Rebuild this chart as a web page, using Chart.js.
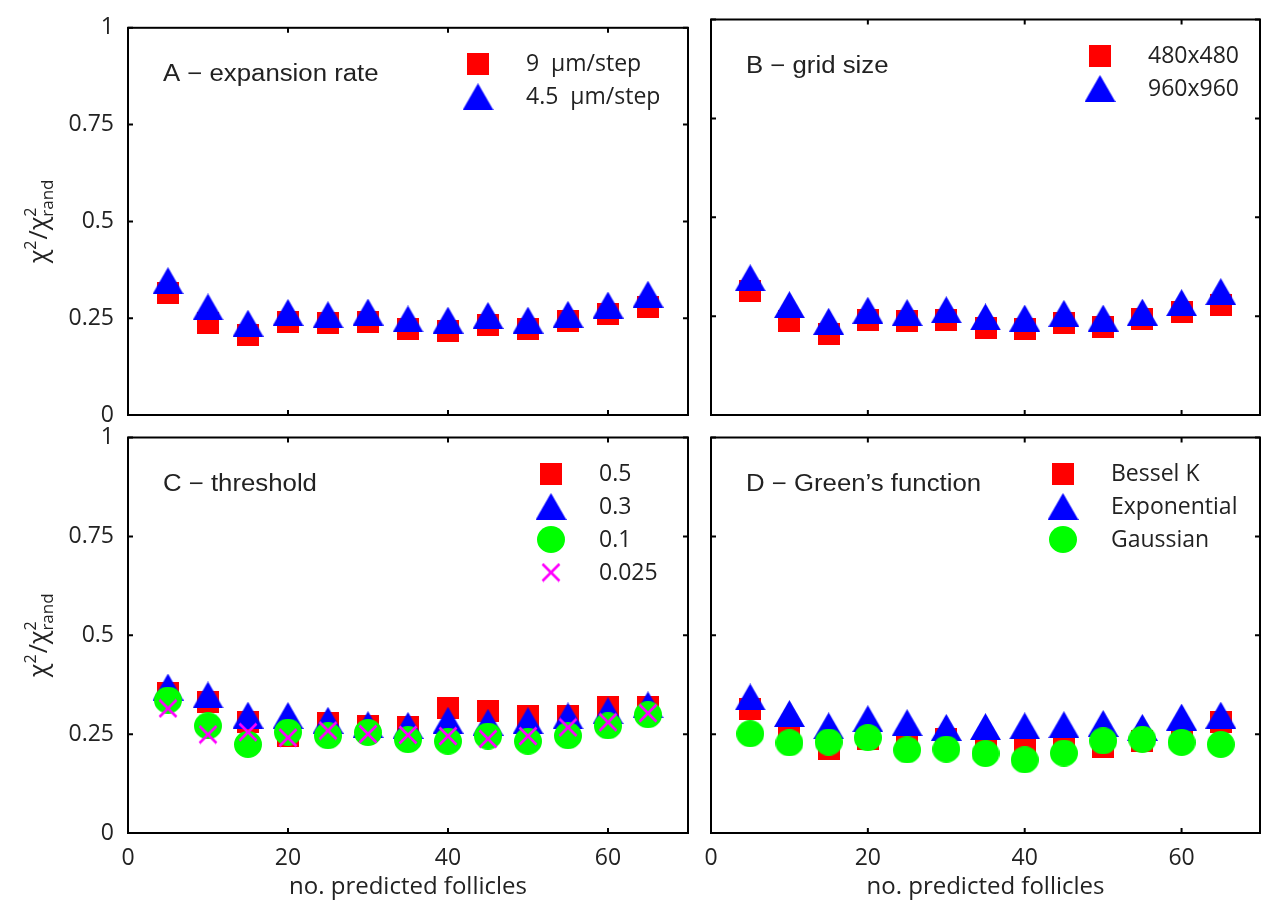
<!DOCTYPE html>
<html>
<head>
<meta charset="utf-8">
<script src="https://cdn.jsdelivr.net/npm/chart.js@4.4.0/dist/chart.umd.min.js"></script>
<style>
  html, body { margin: 0; padding: 0; background: #fff; }
  #wrap { position: relative; width: 1273px; height: 905px; }
  #wrap canvas { position: absolute; left: 0; top: 0; }
</style>
</head>
<body>
<div id="wrap">
  <canvas id="cA" width="1273" height="905"></canvas>
  <canvas id="cB" width="1273" height="905"></canvas>
  <canvas id="cC" width="1273" height="905"></canvas>
  <canvas id="cD" width="1273" height="905"></canvas>
</div>
<script>
// data
const follicles = [5, 10, 15, 20, 25, 30, 35, 40, 45, 50, 55, 60, 65];

const rate9 = [0.314, 0.238, 0.206, 0.240, 0.237, 0.240, 0.221, 0.218, 0.232, 0.223, 0.242, 0.261, 0.278];
const rate45 = [0.347, 0.279, 0.237, 0.265, 0.259, 0.266, 0.248, 0.245, 0.257, 0.245, 0.260, 0.284, 0.312];

const grid480 = [0.314, 0.238, 0.206, 0.240, 0.237, 0.240, 0.221, 0.218, 0.232, 0.223, 0.242, 0.261, 0.278];
const grid960 = [0.347, 0.279, 0.237, 0.265, 0.259, 0.266, 0.248, 0.245, 0.257, 0.245, 0.260, 0.284, 0.312];

const thr05 = [0.355, 0.330, 0.281, 0.244, 0.277, 0.270, 0.267, 0.315, 0.308, 0.296, 0.296, 0.319, 0.319];
const thr03 = [0.369, 0.349, 0.298, 0.297, 0.285, 0.274, 0.272, 0.285, 0.280, 0.284, 0.296, 0.309, 0.324];
const thr01 = [0.336, 0.271, 0.224, 0.255, 0.246, 0.254, 0.236, 0.232, 0.245, 0.232, 0.246, 0.271, 0.299];
const thr0025 = [0.315, 0.249, 0.255, 0.241, 0.259, 0.250, 0.248, 0.245, 0.238, 0.245, 0.267, 0.280, 0.303];

const besselK = [0.314, 0.254, 0.212, 0.237, 0.222, 0.238, 0.222, 0.222, 0.218, 0.218, 0.232, 0.244, 0.281];
const exponential = [0.344, 0.302, 0.271, 0.289, 0.279, 0.267, 0.269, 0.271, 0.274, 0.277, 0.267, 0.293, 0.298];
const gaussian = [0.251, 0.228, 0.230, 0.241, 0.210, 0.212, 0.201, 0.185, 0.202, 0.233, 0.237, 0.229, 0.224];

const xTicks = [0, 20, 40, 60];
const yTicks = [0, 0.25, 0.5, 0.75, 1];
const yTickLabels = ['0', '0.25', '0.5', '0.75', '1'];

const W = 1273, H = 905;
const YW = 60, XH = 40, TICK = 5;
const TXT = '#222';
const FONT = "'Open Sans', sans-serif";

// marker images (bbox centred)
function marker(kind) {
  const c = document.createElement('canvas');
  const g = c.getContext('2d');
  if (kind === 'square') {
    c.width = 22; c.height = 22;
    g.fillStyle = '#ff0000'; g.fillRect(0, 0, 22, 22);
  } else if (kind === 'triangle') {
    c.width = 31; c.height = 27;
    g.fillStyle = '#0000ff';
    g.beginPath(); g.moveTo(15.5, 0); g.lineTo(31, 27); g.lineTo(0, 27); g.closePath(); g.fill();
  } else if (kind === 'circle') {
    c.width = 28; c.height = 27;
    g.fillStyle = '#00ff00';
    g.beginPath(); g.ellipse(14, 13.5, 14, 13.5, 0, 0, Math.PI * 2); g.fill();
  } else {
    c.width = 20; c.height = 20;
    g.strokeStyle = '#ff00ff'; g.lineWidth = 2.6;
    g.beginPath(); g.moveTo(1.5, 1.5); g.lineTo(18.5, 18.5); g.moveTo(18.5, 1.5); g.lineTo(1.5, 18.5); g.stroke();
  }
  return c;
}
const SQ = marker('square'), TRI = marker('triangle'), CIR = marker('circle'), CRS = marker('cross');

const panels = [
  { id: 'cA', area: { l: 128, t: 19.5, r: 688, b: 415 }, title: 'A \u2212 expansion rate', xLab: false, yLab: true,
    legX: 350,
    series: [{ label: '9  \u03bcm/step', data: rate9, m: SQ }, { label: '4.5  \u03bcm/step', data: rate45, m: TRI }] },
  { id: 'cB', area: { l: 711, t: 19.5, r: 1271, b: 415 }, title: 'B \u2212 grid size', xLab: false, yLab: false,
    legX: 389,
    series: [{ label: '480x480', data: grid480, m: SQ }, { label: '960x960', data: grid960, m: TRI }] },
  { id: 'cC', area: { l: 128, t: 437.5, r: 688, b: 833 }, title: 'C \u2212 threshold', xLab: true, yLab: true,
    legX: 423,
    series: [{ label: '0.5', data: thr05, m: SQ }, { label: '0.3', data: thr03, m: TRI },
             { label: '0.1', data: thr01, m: CIR }, { label: '0.025', data: thr0025, m: CRS }] },
  { id: 'cD', area: { l: 711, t: 437.5, r: 1271, b: 833 }, title: 'D \u2212 Green\u2019s function', xLab: true, yLab: false,
    legX: 352,
    series: [{ label: 'Bessel K', data: besselK, m: SQ }, { label: 'Exponential', data: exponential, m: TRI },
             { label: 'Gaussian', data: gaussian, m: CIR }] }
];

function decor(p) {
  return {
    id: 'decor_' + p.id,
    afterDraw(chart) {
      const { ctx, chartArea: a } = chart;
      const sx = chart.scales.x, sy = chart.scales.y;
      ctx.save();
      // box and inward ticks
      ctx.strokeStyle = '#000';
      ctx.lineWidth = 2;
      ctx.strokeRect(a.left, a.top, a.right - a.left, a.bottom - a.top);
      ctx.beginPath();
      xTicks.forEach(v => {
        const px = sx.getPixelForValue(v);
        ctx.moveTo(px, a.bottom); ctx.lineTo(px, a.bottom - TICK);
        ctx.moveTo(px, a.top); ctx.lineTo(px, a.top + TICK);
      });
      yTicks.forEach(v => {
        const py = sy.getPixelForValue(v);
        ctx.moveTo(a.left, py); ctx.lineTo(a.left + TICK, py);
        ctx.moveTo(a.right, py); ctx.lineTo(a.right - TICK, py);
      });
      ctx.stroke();

      // panel title
      ctx.fillStyle = TXT;
      ctx.textBaseline = 'alphabetic';
      ctx.textAlign = 'left';
      ctx.save();
      ctx.translate(a.left + 35, a.top + 53);
      ctx.scale(1.12, 1);
      ctx.font = "23px 'Liberation Sans', Arial, sans-serif";
      ctx.fillText(p.title, 0, 0);
      ctx.restore();

      // legend
      ctx.font = '23px ' + FONT;
      ctx.textBaseline = 'middle';
      p.series.forEach((s, i) => {
        const cy = a.top + 36 + 33 * i;
        const cx = a.left + p.legX;
        ctx.drawImage(s.m, cx - s.m.width / 2, cy - s.m.height / 2);
        ctx.fillText(s.label, cx + 48, cy + 1);
      });

      // x axis title
      if (p.xLab) {
        ctx.textAlign = 'center';
        ctx.textBaseline = 'middle';
        ctx.font = '24px ' + FONT;
        ctx.fillText('no. predicted follicles', (a.left + a.right) / 2, 887);
      }

      // y axis title
      if (p.yLab) {
        ctx.save();
        ctx.translate(47, (a.top + a.bottom) / 2);
        ctx.rotate(-Math.PI / 2);
        ctx.textBaseline = 'alphabetic';
        ctx.textAlign = 'left';
        const big = '25px ' + FONT, small = '16px ' + FONT, sub = '17px ' + FONT;
        ctx.font = big; const wChi = ctx.measureText('\u03c7').width;
        ctx.font = small; const w2 = ctx.measureText('2').width;
        ctx.font = big; const wSl = ctx.measureText('/').width;
        ctx.font = sub; const wRand = ctx.measureText('rand').width;
        const total = wChi + w2 + 1 + wSl + wChi + wRand;
        let x = -total / 2;
        ctx.font = big; ctx.fillText('\u03c7', x, 0); x += wChi;
        ctx.font = small; ctx.fillText('2', x, -11); x += w2 + 1;
        ctx.font = big; ctx.fillText('/', x, 0); x += wSl;
        ctx.fillText('\u03c7', x, 0); x += wChi;
        ctx.font = small; ctx.fillText('2', x, -11);
        ctx.font = sub; ctx.fillText('rand', x, 6);
        ctx.restore();
      }
      ctx.restore();
    }
  };
}

panels.forEach(p => {
  const n = p.series.length;
  const datasets = p.series.map((s, i) => ({
    label: s.label,
    data: follicles.map((f, k) => ({ x: f, y: s.data[k] })),
    pointStyle: s.m,
    pointRadius: 12,
    showLine: false,
    order: n - i
  }));
  new Chart(document.getElementById(p.id), {
    type: 'scatter',
    data: { datasets },
    options: {
      responsive: false,
      animation: false,
      events: [],
      layout: { padding: { left: p.area.l - YW, top: p.area.t, right: W - p.area.r, bottom: H - p.area.b - XH } },
      plugins: { legend: { display: false }, tooltip: { enabled: false } },
      scales: {
        x: {
          type: 'linear', min: 0, max: 70,
          grid: { display: false, drawTicks: false },
          border: { display: false },
          afterBuildTicks: s => { s.ticks = xTicks.map(v => ({ value: v })); },
          afterFit: s => { s.height = XH; },
          ticks: { display: p.xLab, padding: 12, maxRotation: 0, autoSkip: false, color: TXT, font: { family: FONT, size: 23 } }
        },
        y: {
          type: 'linear', min: 0, max: 1,
          grid: { display: false, drawTicks: false },
          border: { display: false },
          afterBuildTicks: s => { s.ticks = yTicks.map(v => ({ value: v })); },
          afterFit: s => { s.width = YW; },
          ticks: { display: p.yLab, padding: 14, autoSkip: false, color: TXT, font: { family: FONT, size: 23 },
                   callback: v => yTickLabels[yTicks.indexOf(v)] }
        }
      }
    },
    plugins: [decor(p)]
  });
});
</script>
</body>
</html>
